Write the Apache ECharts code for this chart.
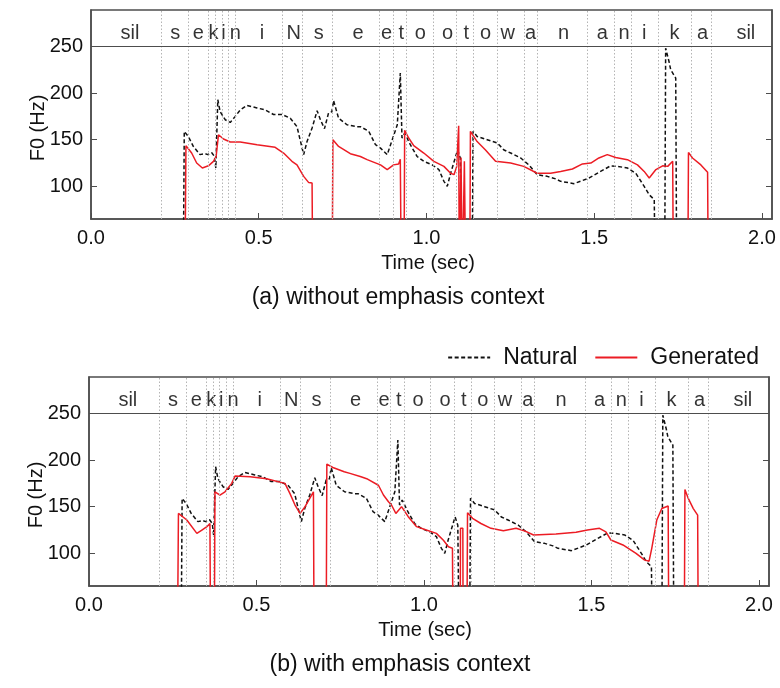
<!DOCTYPE html>
<html>
<head>
<meta charset="utf-8">
<script src="https://cdn.jsdelivr.net/npm/echarts@6/dist/echarts.min.js"></script>
<style>
  html, body { margin: 0; padding: 0; background: #fff; }
  #main { width: 780px; height: 688px; }
</style>
</head>
<body>
<div id="main"></div>
<script>
// tick labels
var xTicks = [0, 0.5, 1.0, 1.5, 2.0];
var yTicks = [100, 150, 200, 250];

// phoneme labels and where they sit (sec)
var phonemes = ['sil', 's', 'e', 'k', 'i', 'n', 'i', 'N', 's', 'e', 'e', 't', 'o', 'o', 't', 'o', 'w', 'a', 'n', 'a', 'n', 'i', 'k', 'a', 'sil'];
var phonemeTimes = [0.116, 0.251, 0.320, 0.365, 0.395, 0.430, 0.510, 0.604, 0.679, 0.796, 0.881, 0.925, 0.982, 1.063, 1.119, 1.176, 1.242, 1.310, 1.409, 1.524, 1.589, 1.649, 1.739, 1.823, 1.952];
// phoneme boundaries (sec)
var boundaries = [0.211, 0.286, 0.350, 0.370, 0.390, 0.410, 0.433, 0.567, 0.629, 0.723, 0.858, 0.902, 0.941, 1.022, 1.093, 1.142, 1.212, 1.290, 1.332, 1.481, 1.562, 1.613, 1.689, 1.786, 1.855];

// natural F0 (0 = unvoiced)
var natural = [[0.275,0],[0.278,158.9],[0.290,153.5],[0.305,142.8],[0.325,134],[0.340,135],[0.348,134],[0.360,136],[0.368,132],[0.372,119.7],[0.378,192.8],[0.385,180],[0.400,171.4],[0.415,168.5],[0.430,175],[0.445,182],[0.465,186.7],[0.495,184],[0.519,182],[0.544,177],[0.569,177],[0.594,173],[0.614,164],[0.634,134],[0.644,148],[0.659,162.5],[0.674,181],[0.684,171.4],[0.696,161.8],[0.708,178.6],[0.718,180],[0.723,192],[0.738,173],[0.763,166],[0.793,164],[0.803,164],[0.828,159],[0.848,144.6],[0.863,141],[0.883,134],[0.898,150],[0.913,166],[0.922,221.4],[0.927,151.8],[0.935,157],[0.952,144.6],[0.972,132],[0.992,126.8],[1.017,123],[1.037,118],[1.052,105.4],[1.062,100],[1.072,114],[1.087,132],[1.093,139],[1.101,130],[1.105,0],[1.136,0],[1.139,159],[1.151,153.5],[1.181,150],[1.211,146.5],[1.231,139],[1.251,135.7],[1.281,130.4],[1.305,123],[1.330,112.5],[1.360,110.7],[1.385,108],[1.400,105.4],[1.440,102.9],[1.485,109],[1.519,116],[1.549,122],[1.569,121.4],[1.599,119.7],[1.624,114],[1.649,100],[1.664,91],[1.679,85.8],[1.682,0],[1.710,0],[1.713,248],[1.723,233.8],[1.728,225],[1.733,226],[1.743,216],[1.746,0]];

// generated F0, (a) without emphasis context
var generatedA = [[0.280,0],[0.283,143.6],[0.300,135.7],[0.315,125],[0.332,119.7],[0.350,122],[0.365,126.8],[0.373,132],[0.380,155.3],[0.395,150.7],[0.415,147.5],[0.445,147.5],[0.495,144.6],[0.549,141.8],[0.574,135.7],[0.599,126.8],[0.614,123],[0.634,110.7],[0.649,104],[0.659,103.6],[0.661,0],[0.719,0],[0.721,150],[0.738,142.8],[0.773,135],[0.803,132],[0.823,128.6],[0.863,123],[0.883,118],[0.902,123],[0.917,124],[0.922,129],[0.925,0],[0.933,0],[0.935,160],[0.947,151.8],[0.962,143.6],[0.992,135.7],[1.022,126.8],[1.052,121.4],[1.072,114],[1.082,112.5],[1.090,121],[1.096,165],[1.098,0],[1.102,0],[1.103,131],[1.106,131],[1.107,0],[1.112,0],[1.113,127],[1.116,127],[1.117,0],[1.129,0],[1.131,159],[1.151,148],[1.176,139],[1.206,126.8],[1.251,125],[1.290,121.4],[1.330,114],[1.370,114],[1.400,116],[1.435,118.6],[1.465,124],[1.490,125],[1.514,130.4],[1.539,134],[1.564,131],[1.599,128.6],[1.629,123],[1.649,116],[1.664,109],[1.684,118],[1.704,122],[1.719,121.4],[1.734,126.8],[1.736,0],[1.779,0],[1.781,136.4],[1.793,130.4],[1.818,123],[1.838,115],[1.840,0]];

// generated F0, (b) with emphasis context
var generatedB = [[0.264,0],[0.267,142.8],[0.292,135.7],[0.322,121.4],[0.337,125],[0.352,128.6],[0.361,132],[0.363,0],[0.374,0],[0.376,166],[0.391,162.5],[0.406,166],[0.426,175],[0.436,182.8],[0.481,182],[0.530,180],[0.585,175],[0.600,164],[0.615,151.8],[0.630,142.8],[0.645,150],[0.670,166],[0.672,0],[0.708,0],[0.710,195.7],[0.728,192],[0.762,187.5],[0.779,185.7],[0.812,182],[0.829,180],[0.864,173],[0.879,162.5],[0.894,155.3],[0.903,151.8],[0.916,142.8],[0.933,150],[0.953,139.3],[0.978,128.6],[1.007,125],[1.037,121.4],[1.058,114],[1.073,107],[1.085,105.4],[1.087,0],[1.108,0],[1.109,127],[1.116,127],[1.117,0],[1.128,0],[1.130,143.6],[1.145,137.5],[1.170,132],[1.200,126.8],[1.237,124.3],[1.275,126.8],[1.299,124.3],[1.327,119.7],[1.394,120.8],[1.454,122.5],[1.488,125],[1.524,126.8],[1.543,123],[1.558,114.3],[1.594,109],[1.633,100],[1.658,93],[1.672,91.6],[1.680,105.4],[1.695,135.7],[1.710,148],[1.729,150.7],[1.731,0],[1.777,0],[1.779,168.5],[1.789,158.9],[1.804,148],[1.817,141],[1.819,0]];

var FONT = 'Liberation Sans';
var FRAME = '#4d4d4d';
var RED = '#ec1c24';

function xAxisFor(gi) {
    return {
        type: 'value', gridIndex: gi, min: 0, max: 2.03,
        axisLine: { show: true, lineStyle: { color: FRAME, width: 1.5 } },
        axisTick: { show: true, inside: true, length: 6, customValues: xTicks, lineStyle: { color: FRAME } },
        axisLabel: { customValues: xTicks, formatter: function(v) { return v.toFixed(1); },
                     fontFamily: FONT, fontSize: 20, color: '#111', margin: 9 },
        splitLine: { show: false }
    };
}
function yAxisFor(gi, pos) {
    return {
        type: 'value', gridIndex: gi, min: 65, max: 289, position: pos,
        axisLine: { show: true, lineStyle: { color: FRAME, width: 1.5 } },
        axisTick: { show: true, inside: true, length: 6, customValues: yTicks, lineStyle: { color: FRAME } },
        axisLabel: { show: pos === 'left', customValues: yTicks,
                     fontFamily: FONT, fontSize: 20, color: '#111', margin: 8 },
        splitLine: { show: false }
    };
}
function seriesFor(gi, gen) {
    return [
        {
            // phoneme labels, boundaries and the label band line
            type: 'scatter', xAxisIndex: gi, yAxisIndex: gi * 2, z: 1,
            symbolSize: 1, itemStyle: { color: 'rgba(0,0,0,0)' }, silent: true,
            data: phonemes.map(function(p, i) { return [phonemeTimes[i], 264, p]; }),
            label: { show: true, position: 'inside', formatter: function(p) { return p.data[2]; },
                     fontFamily: FONT, fontSize: 20, color: '#000' },
            markLine: {
                silent: true, symbol: ['none', 'none'], label: { show: false },
                data: boundaries.map(function(t) {
                    return { xAxis: t, lineStyle: { color: '#b4b4b4', width: 1, type: [1.5, 2] } };
                }).concat([{ yAxis: 250, lineStyle: { color: FRAME, width: 1.2, type: 'solid' } }])
            }
        },
        {
            name: 'Natural', type: 'line', xAxisIndex: gi, yAxisIndex: gi * 2, z: 3,
            data: natural, symbol: 'none', showSymbol: false, clip: true,
            lineStyle: { color: '#111', width: 1.5, type: [4, 2.5] },
            itemStyle: { color: '#111' }
        },
        {
            name: 'Generated', type: 'line', xAxisIndex: gi, yAxisIndex: gi * 2, z: 4,
            data: gen, symbol: 'none', showSymbol: false, clip: true,
            lineStyle: { color: RED, width: 1.5 },
            itemStyle: { color: RED }
        }
    ];
}
function label(text, x, y, size, rot) {
    return { type: 'text', x: x, y: y, rotation: rot || 0,
             style: { text: text, fontFamily: FONT, fontSize: size, fill: '#111',
                      textAlign: 'center', textVerticalAlign: 'middle' } };
}

var option = {
    animation: false,
    backgroundColor: '#fff',
    grid: [
        { left: 91, top: 10, width: 681, height: 209, show: true, borderColor: FRAME, borderWidth: 1.5 },
        { left: 89, top: 377, width: 680, height: 209, show: true, borderColor: FRAME, borderWidth: 1.5 }
    ],
    xAxis: [xAxisFor(0), xAxisFor(1)],
    yAxis: [yAxisFor(0, 'left'), yAxisFor(0, 'right'), yAxisFor(1, 'left'), yAxisFor(1, 'right')],
    legend: {
        data: ['Natural', 'Generated'], right: 16, top: 341,
        itemWidth: 42, itemHeight: 14, itemGap: 17,
        itemStyle: { opacity: 0 },
        textStyle: { fontFamily: FONT, fontSize: 23, color: '#111', padding: [0, 0, 0, 8] }
    },
    graphic: [
        label('F0 (Hz)', 38, 128, 20, Math.PI / 2),
        label('Time (sec)', 428, 263, 20),
        label('(a) without emphasis context', 398, 298, 23),
        label('F0 (Hz)', 36, 495, 20, Math.PI / 2),
        label('Time (sec)', 425, 630, 20),
        label('(b) with emphasis context', 400, 665, 23)
    ],
    series: seriesFor(0, generatedA).concat(seriesFor(1, generatedB))
};
var myChart = echarts.init(document.getElementById('main'));
myChart.setOption(option);
</script>
</body>
</html>
